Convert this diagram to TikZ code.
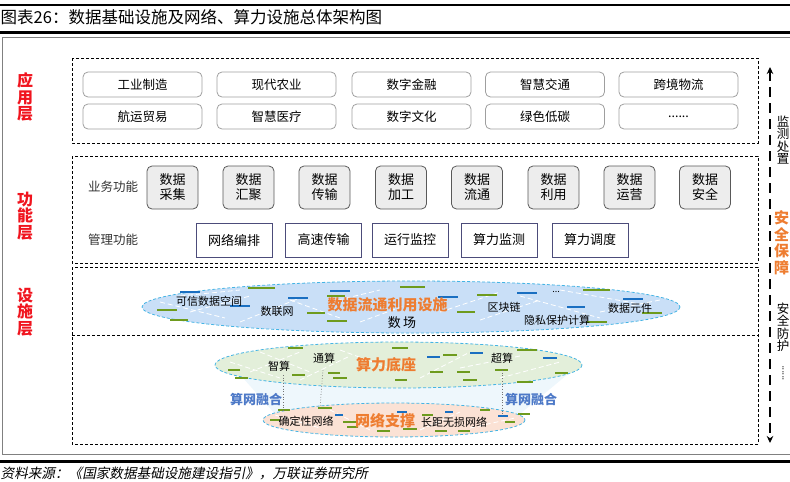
\documentclass[tikz,border=0pt]{standalone}
\usepackage{fontspec}
\setmainfont{Noto Sans CJK SC}
\newfontfamily\srcfont[FakeSlant=0.2]{Noto Sans CJK SC}
\usetikzlibrary{arrows.meta}
\definecolor{lblred}{HTML}{F0141E}
\definecolor{lblorange}{HTML}{EE7D31}
\definecolor{lblblue}{HTML}{4D79C7}
\definecolor{ebluefill}{HTML}{C9DFF7}
\definecolor{egreenfill}{HTML}{E3EFDA}
\definecolor{epeachfill}{HTML}{FBE2D5}
\definecolor{eborder}{HTML}{45B4E4}
\definecolor{barg}{HTML}{6E9B1E}
\definecolor{barb}{HTML}{1A6FC1}
\definecolor{bandfill}{HTML}{EEF7FC}
\tikzset{
  layerbox/.style={draw=black, dash pattern=on 3pt off 2pt, line width=0.7pt},
  appbox/.style={draw=gray!75, rounded corners=5pt, line width=0.8pt, minimum width=119pt, minimum height=25pt, inner sep=0pt, font=\fontsize{12.5}{14}\selectfont},
  funcbox/.style={draw=black!65, fill=black!7, rounded corners=5pt, line width=0.8pt, minimum width=51pt, minimum height=43pt, inner sep=0pt, align=center, font=\fontsize{13}{15}\selectfont},
  mgmtbox/.style={draw=black!55!blue!40!gray, line width=0.9pt, minimum width=76pt, minimum height=34pt, inner sep=0pt, font=\fontsize{13}{15}\selectfont},
  sidelabel/.style={text=lblred, align=center, inner sep=0pt, font=\bfseries\fontsize{16}{16.5}\selectfont},
  rightlabel/.style={align=center, inner sep=0pt, font=\fontsize{12.5}{12.5}\selectfont},
  small/.style={inner sep=0pt, font=\fontsize{11}{11}\selectfont},
  bigorange/.style={inner sep=0pt, text=lblorange, font=\bfseries\fontsize{15}{15}\selectfont},
  fusion/.style={inner sep=0pt, text=lblblue, font=\bfseries\fontsize{13}{13}\selectfont},
  ellborder/.style={draw=eborder, dash pattern=on 3pt off 2pt, line width=0.8pt},
  gbar/.style={draw=barg, line width=2.4pt},
  bbar/.style={draw=barb, line width=2.4pt},
  wdash/.style={draw=white, dash pattern=on 5pt off 3pt, line width=0.8pt},
  vdot/.style={draw=black!55, dotted, line width=0.7pt}
}
\begin{document}
\begin{tikzpicture}[x=1pt,y=-1pt]
\useasboundingbox (0,0) rectangle (790,482);
% header and footer rules
\coordinate (tl1) at (0,5); \coordinate (tr1) at (790,5);
\draw[line width=2pt] (tl1) -- (tr1);
\node[anchor=west, inner sep=0pt, font=\fontsize{16.5}{17}\selectfont] (title) at (0.5,17) {图表26：数据基础设施及网络、算力设施总体架构图};
\coordinate (tl2) at (0,32); \coordinate (tr2) at (790,32);
\draw[line width=3pt] (tl2) -- (tr2);
\draw[draw=gray, line width=1pt] (2,37) rectangle (796,454);
\coordinate (bl1) at (0,461); \coordinate (br1) at (790,461);
\draw[line width=3pt] (bl1) -- (br1);
\node[anchor=west, inner sep=0pt, font=\srcfont\fontsize{13.6}{14}\selectfont] (source) at (0.5,473) {资料来源：《国家数据基础设施建设指引》，万联证券研究所};

% layer boxes
\draw[layerbox] (72,58) rectangle (758,143);
\draw[layerbox] (72,156) rectangle (758,263);
\draw[layerbox] (72,267) rectangle (758,444);
\draw[layerbox] (72,335) -- (758,335);

% left labels
\node[sidelabel] (lapp) at (25,97) {应\\用\\层};
\node[sidelabel] (lfun) at (25,216) {功\\能\\层};
\node[sidelabel] (lfac) at (25,312) {设\\施\\层};

% application boxes
\node[appbox] (a1) at (142.5,84.5) {工业制造};
\node[appbox] (a2) at (276.5,84.5) {现代农业};
\node[appbox] (a3) at (411.5,84.5) {数字金融};
\node[appbox] (a4) at (545,84.5) {智慧交通};
\node[appbox] (a5) at (678.5,84.5) {跨境物流};
\node[appbox] (b1) at (142.5,116.5) {航运贸易};
\node[appbox] (b2) at (276.5,116.5) {智慧医疗};
\node[appbox] (b3) at (411.5,116.5) {数字文化};
\node[appbox] (b4) at (545,116.5) {绿色低碳};
\node[appbox] (b5) at (678.5,116.5) {......};

% function layer
\node[inner sep=0pt, font=\fontsize{12.5}{14}\selectfont, text=black!80] (yw) at (113,187) {业务功能};
\node[inner sep=0pt, font=\fontsize{12.5}{14}\selectfont, text=black!80] (gl) at (113,240) {管理功能};
\node[funcbox] (f1) at (172.5,187.5) {数据\\采集};
\node[funcbox] (f2) at (248.5,187.5) {数据\\汇聚};
\node[funcbox] (f3) at (324.5,187.5) {数据\\传输};
\node[funcbox] (f4) at (401,187.5) {数据\\加工};
\node[funcbox] (f5) at (477,187.5) {数据\\流通};
\node[funcbox] (f6) at (553.5,187.5) {数据\\利用};
\node[funcbox] (f7) at (629.5,187.5) {数据\\运营};
\node[funcbox] (f8) at (705,187.5) {数据\\安全};
\node[mgmtbox] (m1) at (234,240) {网络编排};
\node[mgmtbox] (m2) at (323.5,240) {高速传输};
\node[mgmtbox] (m3) at (410,240) {运行监控};
\node[mgmtbox] (m4) at (499,240) {算力监测};
\node[mgmtbox] (m5) at (590,240) {算力调度};

% right side arrow and labels
\coordinate (arrTop) at (770,67);
\coordinate (arrBot) at (770,443);
\draw[line width=2.5pt, dash pattern=on 10pt off 6pt, {Stealth[length=7pt,width=6.5pt]}-{Stealth[length=7pt,width=6.5pt]}] (arrTop) -- (arrBot);
\node[rightlabel] (r1) at (783,140) {监\\测\\处\\置};
\node[rightlabel, text=lblorange, font=\bfseries\fontsize{15}{16.5}\selectfont] (r2) at (781.5,243) {安\\全\\保\\障};
\node[rightlabel] (r3) at (783,327) {安\\全\\防\\护};
\node[rotate=90, inner sep=0pt, font=\fontsize{9}{9}\selectfont] (r4) at (783,373) {......};

% ---------- facility layer ----------
% band between computing and network
\fill[bandfill] (243,378) -- (568,374) -- (520,414) -- (275,414) -- cycle;

% data ellipse
\path[fill=ebluefill, ellborder] (411,307) ellipse [x radius=269, y radius=26];
\foreach \p/\q in {{160,302}/{225,318},{190,312}/{250,296},{240,322}/{300,298},{290,300}/{340,318},{330,302}/{380,290},{360,322}/{420,300},{440,312}/{500,292},{480,320}/{540,300},{520,296}/{600,318},{560,290}/{640,304},{600,312}/{660,300},{180,296}/{240,290}}
  \draw[wdash] (\p) -- (\q);
\foreach \a/\b/\c in {180/200/292, 230/250/306, 288/308/298, 330/350/291, 438/458/297, 517/537/293, 567/585/307, 623/643/299}
  \draw[bbar] (\a,\c) -- (\b,\c);
\foreach \a/\b/\c in {248/275/288, 157/177/310, 170/188/320, 307/325/313, 327/347/321, 327/345/296, 400/425/287, 477/497/295, 583/610/290, 457/475/312, 587/607/322, 642/662/313}
  \draw[gbar] (\a,\c) -- (\b,\c);

% computing ellipse
\path[fill=egreenfill, ellborder] (398.5,365) ellipse [x radius=183.5, y radius=23];
\foreach \p/\q in {{230,362}/{280,378},{260,352}/{310,372},{300,380}/{350,356},{340,350}/{400,372},{420,378}/{470,352},{460,368}/{520,356},{500,378}/{560,362},{250,372}/{300,352}}
  \draw[wdash] (\p) -- (\q);
\foreach \a/\b/\c in {427/440/357, 470/483/353, 543/557/358}
  \draw[bbar] (\a,\c) -- (\b,\c);
\foreach \a/\b/\c in {288/303/348, 392/408/348, 517/537/350, 443/457/355, 228/240/370, 235/248/378, 292/305/375, 328/340/373, 333/347/378, 395/407/380, 430/443/372, 457/470/372, 495/508/370, 555/568/373, 517/533/382, 463/477/380}
  \draw[gbar] (\a,\c) -- (\b,\c);

% network ellipse
\path[fill=epeachfill, ellborder] (394,420) ellipse [x radius=131, y radius=17];
\foreach \p/\q in {{275,415}/{320,428},{330,410}/{370,430},{420,430}/{460,412},{470,428}/{515,418}}
  \draw[wdash] (\p) -- (\q);
\foreach \a/\b/\c in {335/343/415, 397/407/412, 445/453/412, 498/508/416}
  \draw[bbar] (\a,\c) -- (\b,\c);
\foreach \a/\b/\c in {278/290/410, 318/332/408, 343/357/422, 347/358/427, 377/390/431, 403/417/429, 422/433/415, 480/490/410, 518/530/414, 505/515/422, 458/470/431, 270/280/420, 435/447/431}
  \draw[gbar] (\a,\c) -- (\b,\c);

% labels in data ellipse
\node[small] (kx) at (209,301) {可信数据空间};
\node[small] (slw) at (277,311) {数联网};
\node[bigorange] (sjlt) at (387.5,305) {数据流通利用设施};
\node[inner sep=0pt, font=\fontsize{13}{13}\selectfont] (sc) at (402,323) {数\,场};
\node[small] (qkl) at (504,307) {区块链};
\node[small] (ys) at (557,320) {隐私保护计算};
\node[small] (yj) at (630,308) {数据元件};
\node[inner sep=0pt, font=\fontsize{9}{9}\selectfont] (dots) at (556,292) {...};

% labels in computing ellipse
\node[small] (zs) at (279,366) {智算};
\node[small] (ts) at (324,358) {通算};
\node[bigorange] (sldz) at (386,365) {算力底座};
\node[small] (cs) at (502,358) {超算};

% labels in network ellipse
\node[small] (qdx) at (306,421) {确定性网络};
\node[bigorange] (wlzc) at (385,421) {网络支撑};
\node[small] (cj) at (454,422) {长距无损网络};

% fusion labels
\node[fusion] (fl) at (256,399) {算网融合};
\node[fusion] (fr) at (531,399) {算网融合};

% dotted links
\coordinate (d1a) at (283,375); \coordinate (d1b) at (283,412);
\coordinate (d2a) at (323,370); \coordinate (d2b) at (320,408);
\coordinate (d3a) at (502,370); \coordinate (d3b) at (502,415);
\draw[vdot] (d1a) -- (d1b);
\draw[vdot] (d2a) -- (d2b);
\draw[vdot] (d3a) -- (d3b);
\end{tikzpicture}
\end{document}
